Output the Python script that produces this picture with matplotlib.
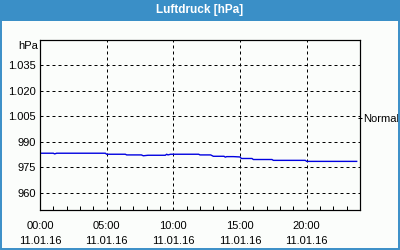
import matplotlib
matplotlib.use("Agg")
import matplotlib.pyplot as plt
from matplotlib.patches import Rectangle
from matplotlib.ticker import MultipleLocator, FixedLocator

plt.rcParams['font.family'] = ['Liberation Sans', 'DejaVu Sans']

# Luftdruck Verlauf 11.01.16 (Stunden, hPa)
hours = [0, 1.0, 1.1, 1.25, 2, 3, 4, 4.9, 5.0, 6, 6.4, 6.5, 7, 7.6, 7.75, 8.1, 8.2, 9, 9.4,
         9.5, 9.6, 9.8, 10, 11, 11.9, 12.0, 12.8, 13.0, 13.8, 13.9, 14.0, 14.5, 15.0,
         15.1, 15.9, 16.0, 17, 17.4, 17.5, 18, 19, 19.9, 20.0, 21, 22, 23, 23.75]
pressure = [983.4, 983.4, 983.0, 983.4, 983.4, 983.4, 983.4, 983.4, 982.8, 982.8, 982.8, 982.4,
            982.4, 982.4, 981.9, 982.2, 982.2, 982.2, 982.2, 982.8, 982.4, 982.8, 982.8, 982.8,
            982.8, 982.4, 982.4, 981.6, 981.6, 981.1, 981.4, 981.4, 981.2, 980.3, 980.3,
            979.7, 979.7, 979.7, 979.2, 979.2, 979.2, 979.2, 978.6, 978.6, 978.6, 978.6, 978.6]

ytick_vals = [960, 975, 990, 1005, 1020, 1035]
ytick_labels = ["960", "975", "990", "1.005", "1.020", "1.035"]
xtick_vals = [0, 5, 10, 15, 20]
xtick_labels = ["00:00\n11.01.16", "05:00\n11.01.16", "10:00\n11.01.16",
                "15:00\n11.01.16", "20:00\n11.01.16"]
normal_level = 1004

blue = "#3a8fc7"

fig = plt.figure(figsize=(4, 2.5), dpi=100)
fig.patch.set_facecolor("#fbfdfb")

# Titelleiste und Rahmen
fig.patches.append(Rectangle((0, 0.918), 1, 0.082, transform=fig.transFigure,
                             facecolor=blue, edgecolor="none", zorder=0))
fig.patches.append(Rectangle((0.0015, 0.003), 0.997, 0.995, transform=fig.transFigure,
                             facecolor="none", edgecolor=blue, lw=1.4, zorder=5))
fig.text(0.5, 0.958, "Luftdruck [hPa]", color="white", fontsize=8.5, fontweight="bold",
         ha="center", va="center")

ax = fig.add_axes([0.1, 0.16, 0.8, 0.68])
ax.set_facecolor("#fbfdfb")
ax.plot(hours, pressure, color="#0000e0", lw=1.0)

ax.set_xlim(0, 24)
ax.set_ylim(950, 1050)
ax.set_xticks(xtick_vals)
ax.set_xticklabels(xtick_labels, fontsize=8, linespacing=1.55)
ax.set_yticks(ytick_vals)
ax.set_yticklabels(ytick_labels, fontsize=8)
ax.xaxis.set_minor_locator(MultipleLocator(1))
ax.tick_params(axis="x", which="major", length=0, pad=8)
ax.tick_params(axis="x", which="minor", direction="in", length=3, width=0.72)
ax.tick_params(axis="y", length=0, pad=3)
ax.grid(True, which="major", color="black", lw=0.72, linestyle=(0, (3, 3)))
for s in ax.spines.values():
    s.set_linewidth(0.8)

fig.text(0.095, 0.815, "hPa", fontsize=8, ha="right", va="center")

ax2 = ax.twinx()
ax2.set_ylim(950, 1050)
ax2.yaxis.set_major_locator(FixedLocator([normal_level]))
ax2.set_yticklabels(["Normal"], fontsize=8)
ax2.tick_params(axis="y", length=3, width=0.72, pad=1, direction="inout")

fig.savefig("out.png", dpi=100, facecolor=fig.get_facecolor())
